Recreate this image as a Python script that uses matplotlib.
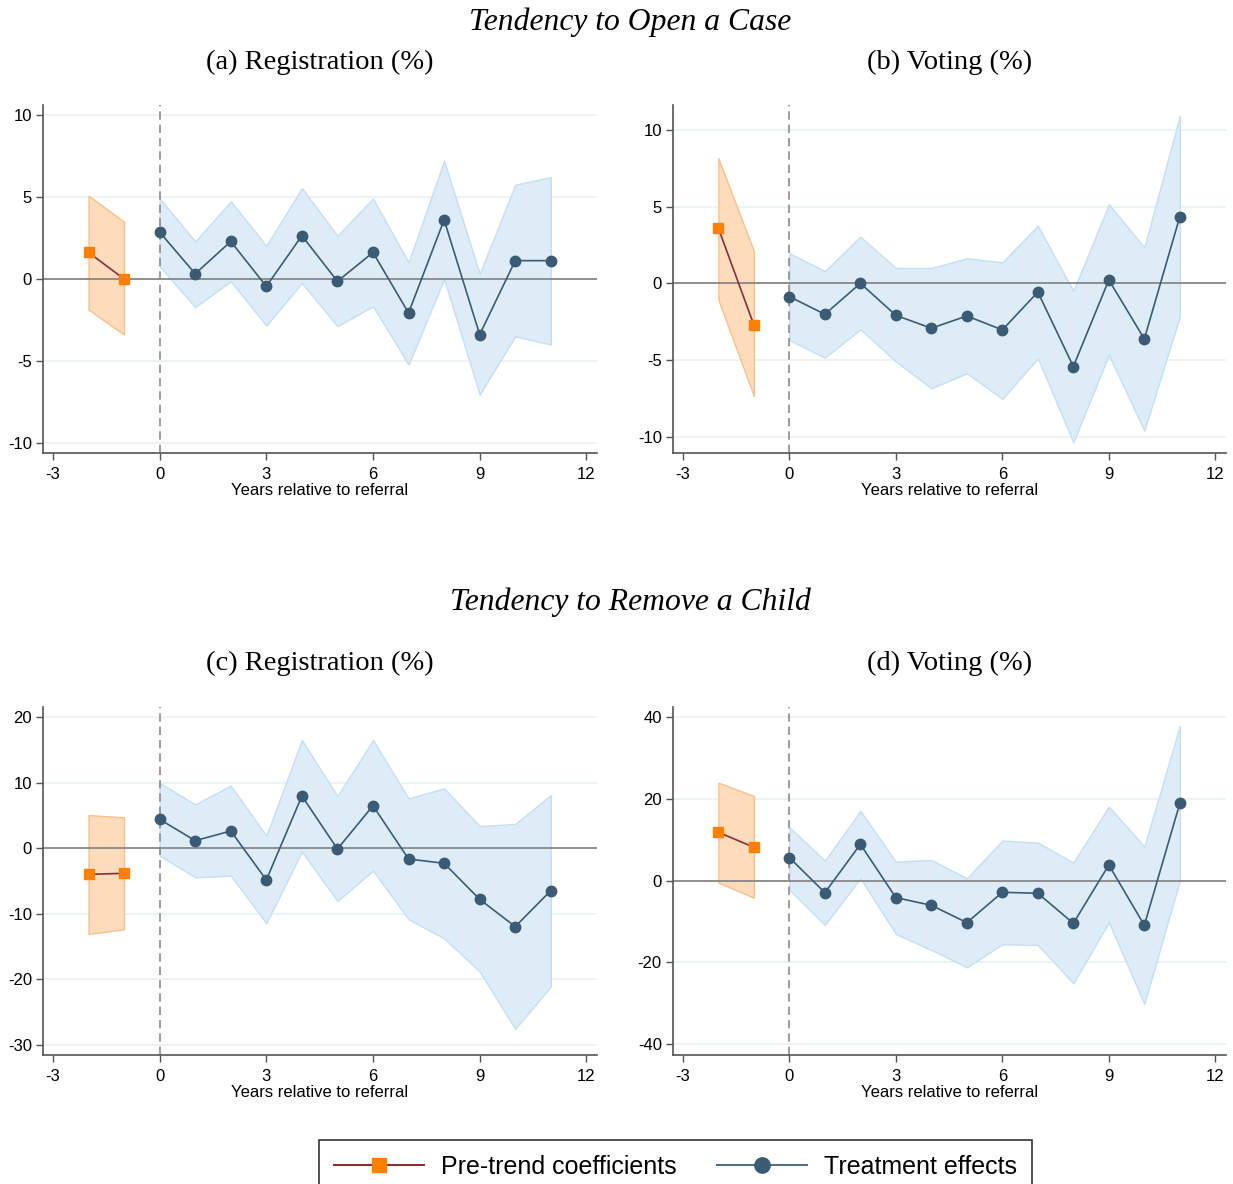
import matplotlib
matplotlib.use('Agg')
import matplotlib.pyplot as plt
from matplotlib.lines import Line2D
import numpy as np

# years relative to referral
pre_years = [-2, -1]
post_years = list(range(0, 12))

# (a) Open a case - registration
a_pre = [1.62, 0.0]
a_pre_hi = [5.08, 3.49]
a_pre_lo = [-1.87, -3.39]
a_est = [2.86, 0.32, 2.29, -0.45, 2.64, -0.14, 1.62, -2.07, 3.61, -3.39, 1.12, 1.12]
a_hi = [4.93, 2.29, 4.73, 2.03, 5.54, 2.64, 4.91, 1.02, 7.21, 0.32, 5.75, 6.21]
a_lo = [0.77, -1.71, -0.14, -2.84, -0.24, -2.88, -1.66, -5.22, 0.0, -7.05, -3.49, -4.0]

# (b) Open a case - voting
b_pre = [3.59, -2.72]
b_pre_hi = [8.15, 2.11]
b_pre_lo = [-1.09, -7.35]
b_est = [-0.87, -2.02, 0.0, -2.09, -2.93, -2.13, -3.04, -0.57, -5.43, 0.22, -3.63, 4.35]
b_hi = [1.96, 0.80, 3.04, 1.0, 1.0, 1.63, 1.37, 3.76, -0.5, 5.15, 2.35, 10.93]
b_lo = [-3.70, -4.85, -3.0, -5.1, -6.85, -5.87, -7.54, -4.89, -10.37, -4.67, -9.61, -2.17]

# (c) Remove a child - registration
c_pre = [-3.97, -3.82]
c_pre_hi = [5.09, 4.73]
c_pre_lo = [-13.08, -12.37]
c_est = [4.43, 1.17, 2.65, -4.83, 7.99, -0.10, 6.51, -1.63, -2.29, -7.79, -11.96, -6.46]
c_hi = [10.0, 6.72, 9.57, 1.93, 16.54, 7.99, 16.54, 7.63, 9.16, 3.41, 3.72, 8.14]
c_lo = [-1.12, -4.43, -4.17, -11.45, -0.51, -8.04, -3.41, -10.84, -13.74, -18.83, -27.58, -21.12]

# (d) Remove a child - voting
d_pre = [11.83, 8.16]
d_pre_hi = [23.98, 20.72]
d_pre_lo = [-0.49, -4.16]
d_est = [5.63, -2.94, 8.89, -4.16, -6.04, -10.28, -2.85, -3.10, -10.44, 3.83, -10.93, 18.92]
d_hi = [13.05, 4.89, 17.05, 4.65, 5.06, 0.57, 9.79, 9.30, 4.40, 18.11, 8.32, 37.85]
d_lo = [-2.28, -10.85, 0.57, -13.05, -16.97, -21.21, -15.58, -15.74, -25.12, -10.20, -30.18, 0.0]

x_ticks = [-3, 0, 3, 6, 9, 12]

PRE_LINE = '#84303c'
PRE_MARK = '#ff7f00'
TE_COL = '#3b5b74'
SERIF = ['Liberation Serif', 'DejaVu Serif']

plt.rcParams['font.family'] = ['Liberation Sans', 'DejaVu Sans']
plt.rcParams['axes.unicode_minus'] = False

fig = plt.figure(figsize=(12.33, 11.84), dpi=100)

panels = [
    # rect, title, pre, pre_hi, pre_lo, est, hi, lo, ylim, yticks
    ([0.0349, 0.6174, 0.4493, 0.2939], '(a) Registration (%)', a_pre, a_pre_hi, a_pre_lo, a_est, a_hi, a_lo,
     (-10.61, 10.61), [-10, -5, 0, 5, 10]),
    ([0.5458, 0.6174, 0.4485, 0.2939], '(b) Voting (%)', b_pre, b_pre_hi, b_pre_lo, b_est, b_hi, b_lo,
     (-11.07, 11.63), [-10, -5, 0, 5, 10]),
    ([0.0349, 0.1090, 0.4493, 0.2939], '(c) Registration (%)', c_pre, c_pre_hi, c_pre_lo, c_est, c_hi, c_lo,
     (-31.57, 21.6), [-30, -20, -10, 0, 10, 20]),
    ([0.5458, 0.1090, 0.4485, 0.2939], '(d) Voting (%)', d_pre, d_pre_hi, d_pre_lo, d_est, d_hi, d_lo,
     (-42.66, 42.5), [-40, -20, 0, 20, 40]),
]

for rect, title, pre, pre_hi, pre_lo, est, hi, lo, ylim, yticks in panels:
    ax = fig.add_axes(rect)
    ax.set_xlim(-3.28, 12.3)
    ax.set_ylim(*ylim)
    ax.set_yticks(yticks)
    ax.set_xticks(x_ticks)
    ax.grid(axis='y', color='#e8f1f3', lw=1.2, zorder=0)
    ax.set_axisbelow(True)

    # confidence bands
    ax.fill_between(pre_years, pre_lo, pre_hi, facecolor='#fddcbc', edgecolor='#fbc088', lw=1, zorder=1)
    ax.fill_between(post_years, lo, hi, facecolor='#deecf8', edgecolor='#c4dff2', lw=1, zorder=1)

    ax.axhline(0, color='#808080', lw=1.2, zorder=2)
    ax.axvline(0, color='#8c8c8c', lw=1.2, ls=(0, (5, 3)), zorder=2)

    ax.plot(pre_years, pre, color=PRE_LINE, lw=1.2, zorder=3)
    ax.plot(pre_years, pre, ls='none', marker='s', ms=7, color=PRE_MARK, zorder=4)
    ax.plot(post_years, est, color=TE_COL, lw=1.2, marker='o', ms=7.5, zorder=4)

    for side in ['top', 'right']:
        ax.spines[side].set_visible(False)
    for side in ['left', 'bottom']:
        ax.spines[side].set_color('#555555')
        ax.spines[side].set_linewidth(1.2)
    ax.tick_params(axis='both', direction='out', length=5, width=1, color='#555555', labelsize=12, pad=3)
    ax.tick_params(axis='x', pad=5)
    ax.set_xlabel('Years relative to referral', fontsize=12, labelpad=1)

    cx = rect[0] + rect[2] / 2
    fig.text(cx, 0.9475 if rect[1] > 0.5 else 0.4395, title, ha='center', va='center',
             fontsize=20.5, family=SERIF)

fig.text(0.511, 0.981, 'Tendency to Open a Case', ha='center', va='center', fontsize=22.8,
         style='italic', family=SERIF)
fig.text(0.511, 0.4915, 'Tendency to Remove a Child', ha='center', va='center', fontsize=22.8,
         style='italic', family=SERIF)

handles = [
    Line2D([], [], color=PRE_LINE, lw=1.5, marker='s', ms=10, mfc=PRE_MARK, mec=PRE_MARK),
    Line2D([], [], color='#4f6f8a', lw=1.5, marker='o', ms=11, mfc=TE_COL, mec=TE_COL),
]
leg = fig.legend(handles, ['Pre-trend coefficients', 'Treatment effects'], loc='upper center',
                 bbox_to_anchor=(0.548, 0.0375), ncol=2, fontsize=18, frameon=True, fancybox=False,
                 edgecolor='black', handlelength=3.6, columnspacing=1.6, borderpad=0.6,
                 handletextpad=0.7, borderaxespad=0)
leg.get_frame().set_linewidth(1.2)

fig.savefig('out.png', dpi=100)
